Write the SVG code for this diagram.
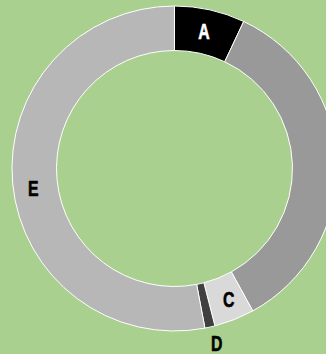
<svg xmlns="http://www.w3.org/2000/svg" width="326" height="354" viewBox="0 0 326 354">
<style>
.s{stroke:#ffffff;stroke-width:1}
.lbl{font-family:"Liberation Sans",Arial,sans-serif;font-weight:bold;font-size:22px;text-anchor:middle;stroke-width:0.6}
</style>
<rect x="0" y="0" width="326" height="354" fill="#a9d08e"/>
<g id="slice-A">
<path class="s" fill="#000000" d="M174.5,6 A162.5,162.5 0 0 1 243.69,21.47 L224.74,61.73 A118,118 0 0 0 174.5,50.5 Z"/>
<text class="lbl" transform="translate(204,39) scale(0.72,1)" fill="#ffffff" stroke="#ffffff">A</text>
</g>
<g id="slice-B">
<path class="s" fill="#999999" d="M243.69,21.47 A162.5,162.5 0 0 1 252.79,310.9 L231.35,271.9 A118,118 0 0 0 224.74,61.73 Z"/>
</g>
<g id="slice-C">
<path class="s" fill="#d9d9d9" d="M252.79,310.9 A162.5,162.5 0 0 1 214.91,325.9 L203.85,282.79 A118,118 0 0 0 231.35,271.9 Z"/>
<text class="lbl" transform="translate(228.7,307) scale(0.72,1)" fill="#000000" stroke="#000000">C</text>
</g>
<g id="slice-D">
<path class="s" fill="#404040" d="M214.91,325.9 A162.5,162.5 0 0 1 204.95,328.12 L196.61,284.41 A118,118 0 0 0 203.85,282.79 Z"/>
<text class="lbl" transform="translate(216.7,350.5) scale(0.72,1)" fill="#000000" stroke="#000000">D</text>
</g>
<g id="slice-E">
<path class="s" fill="#b7b7b7" d="M204.95,328.12 A162.5,162.5 0 1 1 174.5,6 L174.5,50.5 A118,118 0 1 0 196.61,284.41 Z"/>
<text class="lbl" transform="translate(33.3,196) scale(0.72,1)" fill="#000000" stroke="#000000">E</text>
</g>
</svg>
